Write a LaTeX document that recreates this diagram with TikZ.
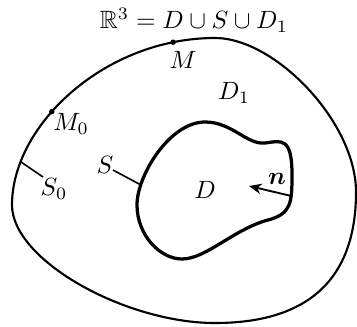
\documentclass[tikz,border=0pt]{standalone}
\usepackage{amsmath,amssymb}
\usetikzlibrary{arrows.meta}
\begin{document}
\begin{tikzpicture}[x=0.4pt,y=-0.4pt,
  outer/.style={line width=0.85pt,line join=round},
  inner/.style={line width=1.3pt,line join=round},
  tick/.style={line width=0.65pt},
  lbl/.style={inner sep=0pt,font=\fontsize{10}{12}\selectfont},
  dotmark/.style={fill=black,circle,inner sep=0pt,minimum size=2.2pt}]
\useasboundingbox (0,0) rectangle (357,326);
% outer surface
\draw[outer] (215,38)
  .. controls (275,38) and (356,122) .. (356,192)
  .. controls (356,282) and (305,323) .. (215,323)
  .. controls (125,323) and (12,260) .. (12,205)
  .. controls (12,125) and (105,38) .. (215,38)
     coordinate[pos=0.18] (S0a)
     coordinate[pos=0.4] (M0)
     coordinate[pos=0.87] (M)
  -- cycle;
% inner surface S
\draw[inner] (137,205)
  .. controls (137,175) and (170,122) .. (205,122)
     coordinate[pos=0.2] (Sa)
  .. controls (232,122) and (247,145) .. (265,143)
  .. controls (281,141) and (292,136) .. (292,175)
  .. controls (292,203) and (291,214) .. (268,220)
     coordinate[pos=0.3] (Na)
  .. controls (234,229) and (206,259) .. (182,259)
  .. controls (160,259) and (137,235) .. (137,205)
  -- cycle;
% free ends
\coordinate (S0b) at (43,177);
\coordinate (Sb) at (113,170);
\coordinate (Nb) at (249,186);
% points
\node[dotmark] (dM) at (M) {};
\node[dotmark] (dM0) at (M0) {};
% ticks and normal
\draw[tick] (S0a) -- (S0b);
\draw[tick] (Sb) -- (Sa);
\draw[line width=0.75pt,-{Stealth[length=5pt,width=4.2pt]}] (Na) -- (Nb);
% labels
\node[lbl] (title) at (194,20) {$\mathbb{R}^3 = D\cup S\cup D_1$};
\node[lbl] (lM) at (183,60) {$M$};
\node[lbl] (lD1) at (234,93) {$D_1$};
\node[lbl] (lM0) at (71,124) {$M_0$};
\node[lbl] (lS0) at (54,189) {$S_0$};
\node[lbl] (lS) at (105,165) {$S$};
\node[lbl] (lD) at (205,190) {$D$};
\node[lbl] (ln) at (277,179) {$\boldsymbol{n}$};
\end{tikzpicture}
\end{document}
